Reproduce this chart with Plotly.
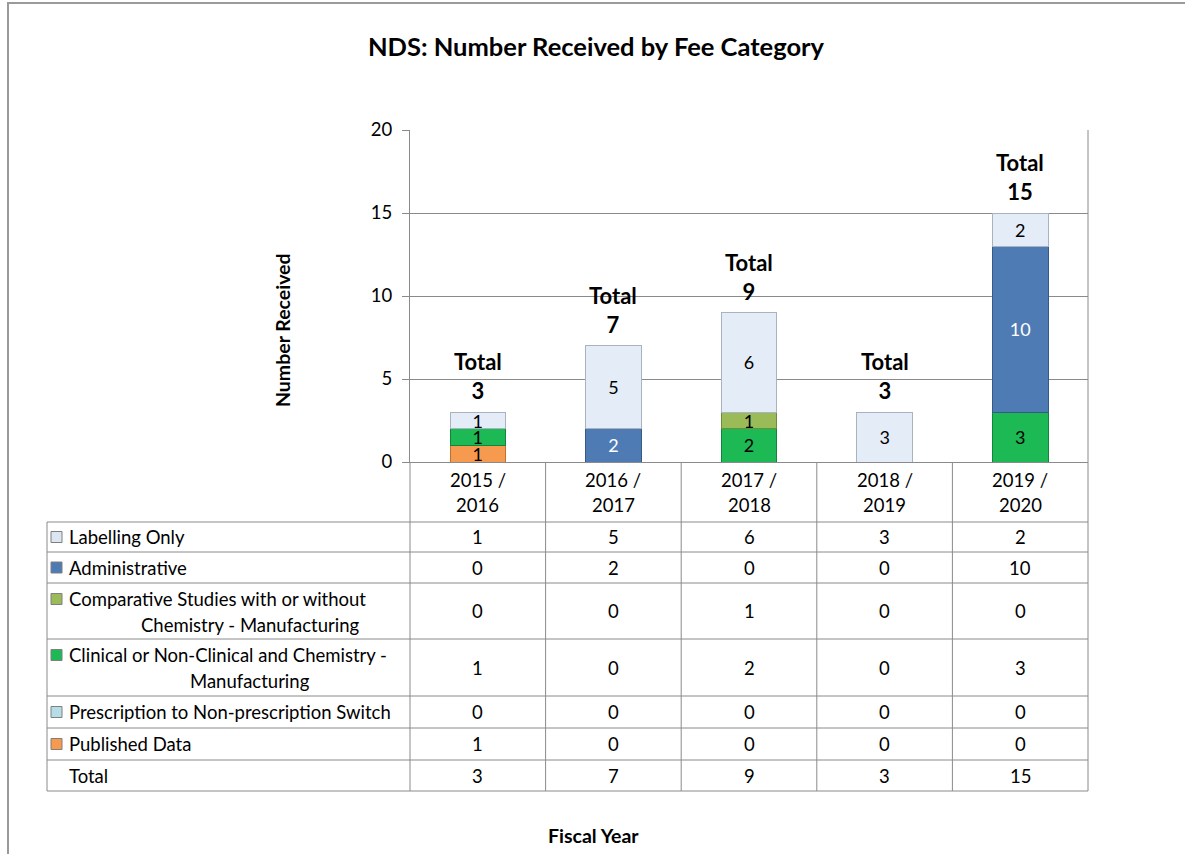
import plotly.graph_objects as go

# %% DATA
years = ["2015 / 2016", "2016 / 2017", "2017 / 2018", "2018 / 2019", "2019 / 2020"]
year_lines = [("2015 /", "2016"), ("2016 /", "2017"), ("2017 /", "2018"),
              ("2018 /", "2019"), ("2019 /", "2020")]

labelling = [1, 5, 6, 3, 2]
administrative = [0, 2, 0, 0, 10]
comparative = [0, 0, 1, 0, 0]
clinical = [1, 0, 2, 0, 3]
prescription = [0, 0, 0, 0, 0]
published = [1, 0, 0, 0, 0]
totals = [3, 7, 9, 3, 15]

row_labels = [
    ["Labelling Only"],
    ["Administrative"],
    ["Comparative Studies with or without", "Chemistry - Manufacturing"],
    ["Clinical or Non-Clinical and Chemistry -", "Manufacturing"],
    ["Prescription to Non-prescription Switch"],
    ["Published Data"],
    ["Total"],
]
table_rows = [labelling, administrative, comparative, clinical, prescription, published, totals]

# %% STYLE
FONT = "Lato"
GRID = "#8a8a8a"
TXT = 18.5
W, H = 1185, 854


def fx(p):
    return p / W


def fy(p):
    return 1 - p / H


def note(text, x, y, xref="paper", size=TXT, **kw):
    kw.setdefault("xanchor", "center")
    fig.add_annotation(x=x, y=y, xref=xref, yref="paper", text=text, showarrow=False,
                       yanchor="middle", font=dict(family=FONT, size=size, color="black"), **kw)


# bottom -> top stacking: name, values, fill, edge, text colour
stack = [
    ("Published Data", published, "#F59A4E", "#c0702c", "black"),
    ("Prescription to Non-prescription Switch", prescription, "#B7DEE8", "#8fb3bf", "black"),
    ("Clinical or Non-Clinical and Chemistry - Manufacturing", clinical, "#1DB954", "#12853a", "black"),
    ("Comparative Studies with or without Chemistry - Manufacturing", comparative, "#9BBB59", "#6f8c3a", "black"),
    ("Administrative", administrative, "#4F7BB5", "#365a88", "white"),
    ("Labelling Only", labelling, "#E3ECF7", "#a9b3c0", "black"),
]
key_colors = ["#DCE6F2", "#4F7BB5", "#9BBB59", "#1DB954", "#B7DEE8", "#F59A4E", None]

fig = go.Figure()
for name, vals, color, edge, tcol in stack:
    fig.add_bar(
        x=years, y=vals, name=name, showlegend=False,
        marker=dict(color=color, line=dict(color=edge, width=1)),
        text=[str(v) if v else "" for v in vals],
        textposition="inside", insidetextanchor="middle", constraintext="none", textangle=0,
        textfont=dict(family=FONT, size=18, color=tcol),
    )

# totals above the stacks
for yr, t in zip(years, totals):
    fig.add_annotation(x=yr, y=t, yref="y", text=f"<b>Total<br>{t}</b>", showarrow=False,
                       xanchor="center", yanchor="bottom", yshift=6,
                       font=dict(family=FONT, size=22, color="black"))

# %% DATA TABLE
plot_l, plot_r = 410, 1088
row_edges = [522, 552, 583, 639, 696, 728, 760, 791]
shapes = []
line_style = dict(color=GRID, width=1)

for y in row_edges:
    shapes.append(dict(type="line", xref="paper", yref="paper", x0=fx(47), x1=fx(plot_r),
                       y0=fy(y), y1=fy(y), line=line_style))
col_edges = [plot_l + i * (plot_r - plot_l) / 5 for i in range(6)]
for x in col_edges:
    shapes.append(dict(type="line", xref="paper", yref="paper", x0=fx(x), x1=fx(x),
                       y0=fy(462), y1=fy(791), line=line_style))
shapes.append(dict(type="line", xref="paper", yref="paper", x0=fx(47), x1=fx(47),
                   y0=fy(522), y1=fy(791), line=line_style))
shapes.append(dict(type="line", xref="paper", yref="paper", x0=fx(plot_r), x1=fx(plot_r),
                   y0=fy(130), y1=fy(462), line=line_style))
# outer chart border
shapes.append(dict(type="rect", xref="paper", yref="paper", x0=fx(8), x1=fx(1200),
                   y0=fy(870), y1=fy(3), line=dict(color="#9a9a9a", width=2)))

# header row: fiscal years
for yr, (l1, l2) in zip(years, year_lines):
    note(l1, yr, fy(480), xref="x")
    note(l2, yr, fy(505), xref="x")

for i, (lines, vals, kc) in enumerate(zip(row_labels, table_rows, key_colors)):
    top, bot = row_edges[i], row_edges[i + 1]
    mid = (top + bot) / 2
    first = top + 16 if len(lines) > 1 else mid
    if kc:
        shapes.append(dict(type="rect", xref="paper", yref="paper", x0=fx(51), x1=fx(62),
                           y0=fy(first + 5.5), y1=fy(first - 5.5), fillcolor=kc,
                           line=dict(color="#7f7f7f", width=1)))
    note(lines[0], fx(67), fy(first), xanchor="left")
    if len(lines) > 1:
        note(lines[1], fx(250), fy(first + 26))
    for yr, v in zip(years, vals):
        note(str(v), yr, fy(mid), xref="x")

# axis titles
note("<b>Number Received</b>", fx(282), fy(330), size=19.5, textangle=-90)
note("<b>Fiscal Year</b>", fx(593), fy(835), size=19.5)

fig.update_layout(
    width=W, height=H,
    margin=dict(l=0, r=0, t=0, b=0, pad=0),
    paper_bgcolor="white", plot_bgcolor="white",
    barmode="stack", bargap=0.59,
    title=dict(text="<b>NDS: Number Received by Fee Category</b>", x=fx(596), xanchor="center",
               y=fy(47), yanchor="middle", font=dict(family=FONT, size=25.5, color="black")),
    font=dict(family=FONT, size=TXT, color="black"),
    shapes=shapes,
    xaxis=dict(domain=[fx(plot_l), fx(plot_r)], type="category", categoryorder="array",
               categoryarray=years, range=[-0.5, 4.5], showticklabels=False, ticks="",
               showline=True, linecolor=GRID, showgrid=False, automargin=False),
    yaxis=dict(domain=[fy(462), fy(130)], range=[0, 20], dtick=5, showgrid=True, gridcolor=GRID,
               showline=True, linecolor=GRID, ticks="outside", ticklen=7, tickcolor=GRID,
               ticklabelstandoff=6, zeroline=False, automargin=False,
               tickfont=dict(family=FONT, size=TXT, color="black")),
)

fig.write_html("out.html", config={"displayModeBar": False},
               post_script="document.body.style.margin='0px';")
